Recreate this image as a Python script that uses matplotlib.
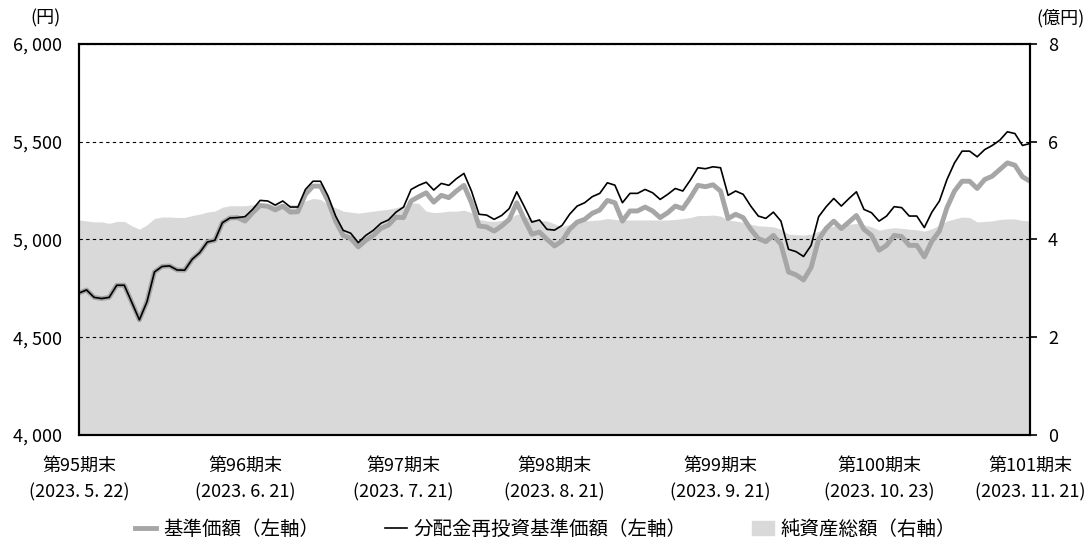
import matplotlib
matplotlib.use("Agg")
import matplotlib.pyplot as plt
from matplotlib.lines import Line2D
from matplotlib.patches import Patch

plt.rcParams['font.family'] = ['Noto Sans CJK JP', 'DejaVu Sans']

# 分配金再投資基準価額 (円), business days 2023/5/22 - 2023/11/21
nav_reinv = [4726, 4742, 4704, 4698, 4704, 4766, 4766, 4678, 4589, 4681,
             4834, 4862, 4865, 4844, 4843, 4899, 4933, 4987, 4996, 5086,
             5110, 5112, 5117, 5154, 5200, 5197, 5176, 5197, 5166, 5166,
             5256, 5298, 5298, 5222, 5120, 5047, 5032, 4984, 5021, 5047,
             5083, 5100, 5140, 5166, 5256, 5277, 5293, 5253, 5287, 5277,
             5311, 5338, 5248, 5129, 5125, 5103, 5123, 5158, 5244, 5168,
             5089, 5100, 5052, 5048, 5072, 5129, 5171, 5188, 5219, 5236,
             5290, 5278, 5188, 5236, 5236, 5256, 5239, 5205, 5231, 5261,
             5248, 5304, 5367, 5362, 5372, 5367, 5226, 5248, 5231, 5171,
             5120, 5108, 5140, 5094, 4950, 4938, 4913, 4970, 5117, 5168,
             5210, 5171, 5209, 5244, 5154, 5137, 5094, 5120, 5168, 5163,
             5120, 5120, 5061, 5140, 5197, 5307, 5392, 5452, 5452, 5423,
             5460, 5481, 5508, 5551, 5542, 5481, 5491]

# 基準価額 (円)
nav = [4726, 4742, 4704, 4698, 4704, 4766, 4766, 4678, 4589, 4681,
       4834, 4862, 4865, 4844, 4843, 4899, 4933, 4987, 4996, 5086,
       5110, 5112, 5094, 5137, 5174, 5170, 5151, 5171, 5140, 5142,
       5231, 5273, 5273, 5196, 5094, 5021, 5006, 4962, 4996, 5021,
       5057, 5074, 5114, 5112, 5197, 5219, 5239, 5191, 5226, 5214,
       5248, 5277, 5188, 5069, 5064, 5043, 5069, 5103, 5188, 5103,
       5027, 5038, 5001, 4967, 4992, 5052, 5089, 5103, 5134, 5151,
       5200, 5188, 5094, 5146, 5146, 5166, 5146, 5112, 5137, 5171,
       5158, 5214, 5277, 5270, 5280, 5248, 5107, 5129, 5112, 5052,
       5005, 4989, 5021, 4976, 4834, 4819, 4793, 4857, 5001, 5057,
       5094, 5056, 5089, 5123, 5052, 5021, 4945, 4970, 5021, 5015,
       4970, 4970, 4911, 4992, 5043, 5163, 5248, 5298, 5298, 5261,
       5307, 5324, 5358, 5392, 5380, 5321, 5298]

# 純資産総額 (億円)
assets = [4.40, 4.38, 4.36, 4.36, 4.33, 4.37, 4.37, 4.28, 4.21, 4.30,
          4.43, 4.46, 4.46, 4.45, 4.45, 4.49, 4.52, 4.56, 4.58, 4.66,
          4.69, 4.69, 4.69, 4.71, 4.72, 4.72, 4.72, 4.72, 4.72, 4.71,
          4.79, 4.84, 4.82, 4.72, 4.65, 4.58, 4.56, 4.54, 4.56, 4.58,
          4.60, 4.62, 4.65, 4.69, 4.75, 4.74, 4.58, 4.55, 4.56, 4.58,
          4.58, 4.60, 4.55, 4.41, 4.38, 4.37, 4.39, 4.43, 4.52, 4.48,
          4.41, 4.39, 4.38, 4.32, 4.26, 4.31, 4.35, 4.38, 4.39, 4.40,
          4.43, 4.41, 4.40, 4.40, 4.40, 4.40, 4.40, 4.40, 4.40, 4.41,
          4.43, 4.45, 4.49, 4.49, 4.50, 4.48, 4.40, 4.38, 4.35, 4.31,
          4.28, 4.27, 4.26, 4.21, 4.11, 4.10, 4.09, 4.11, 4.17, 4.23,
          4.28, 4.28, 4.31, 4.33, 4.30, 4.26, 4.19, 4.22, 4.24, 4.23,
          4.21, 4.20, 4.17, 4.22, 4.29, 4.38, 4.42, 4.46, 4.45, 4.36,
          4.37, 4.38, 4.41, 4.42, 4.42, 4.39, 4.38]

period_idx = [0, 22, 43, 63, 85, 106, 126]
period_labels = ['第95期末\n(2023. 5. 22)', '第96期末\n(2023. 6. 21)',
                 '第97期末\n(2023. 7. 21)', '第98期末\n(2023. 8. 21)',
                 '第99期末\n(2023. 9. 21)', '第100期末\n(2023. 10. 23)',
                 '第101期末\n(2023. 11. 21)']
left_ticks = [4000, 4500, 5000, 5500, 6000]
left_labels = ['4, 000', '4, 500', '5, 000', '5, 500', '6, 000']
right_ticks = [0, 2, 4, 6, 8]

x = list(range(len(nav)))

fig = plt.figure(figsize=(10.91, 5.41), dpi=100)
ax = fig.add_axes([79 / 1091, 1 - 435 / 541, 951 / 1091, 391 / 541])
ax2 = ax.twinx()

ax2.fill_between(x, assets, 0, color='#d9d9d9', lw=0)
ax2.set_ylim(0, 8)
ax2.set_yticks(right_ticks)
ax2.tick_params(axis='y', length=5, width=1.2, pad=8, labelsize=13)

ax.set_zorder(ax2.get_zorder() + 1)
ax.patch.set_visible(False)
ax.plot(x, nav, color='#a6a6a6', lw=3.5, solid_joinstyle='round')
ax.plot(x, nav_reinv, color='black', lw=1.2)
ax.set_xlim(0, 126)
ax.set_ylim(4000, 6000)
ax.set_yticks(left_ticks)
ax.set_yticklabels(left_labels)
ax.set_xticks(period_idx)
ax.set_xticklabels(period_labels, linespacing=1.55)
ax.tick_params(axis='y', length=0, pad=12, labelsize=13)
ax.tick_params(axis='x', length=0, pad=16, labelsize=13)
ax.grid(axis='y', ls=(0, (3, 3)), color='black', lw=0.8)
ax.set_axisbelow(True)

for a in (ax, ax2):
    for s in a.spines.values():
        s.set_linewidth(1.5)

fig.text(45 / 1091, 1 - 18 / 541, '(円)', ha='center', va='center', fontsize=13)
fig.text(1060 / 1091, 1 - 18 / 541, '(億円)', ha='center', va='center', fontsize=13)

handles = [Line2D([], [], color='#a6a6a6', lw=3.5),
           Line2D([], [], color='black', lw=1.2),
           Patch(color='#d9d9d9')]
labels = ['基準価額（左軸）', '分配金再投資基準価額（左軸）', '純資産総額（右軸）']
fig.legend(handles, labels, loc='center', bbox_to_anchor=(0.5, 0.022), ncol=3,
           frameon=False, fontsize=14, handlelength=1.1, handletextpad=0.35,
           columnspacing=3.4)

fig.savefig('out.png', dpi=100)
